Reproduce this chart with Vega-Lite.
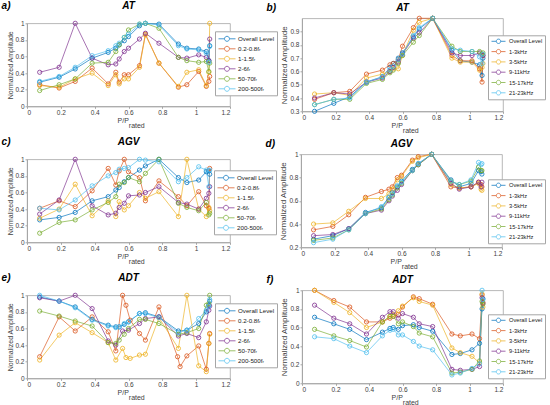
{
  "$schema": "https://vega.github.io/schema/vega-lite/v6.json",
  "datasets": {
    "a": [
      {"series": "Overall Level", "x": 0.075, "y": 0.29}, {"series": "Overall Level", "x": 0.19, "y": 0.35}, {"series": "Overall Level", "x": 0.285, "y": 0.45}, {"series": "Overall Level", "x": 0.385, "y": 0.58}, {"series": "Overall Level", "x": 0.48, "y": 0.65}, {"series": "Overall Level", "x": 0.525, "y": 0.70}, {"series": "Overall Level", "x": 0.545, "y": 0.74}, {"series": "Overall Level", "x": 0.575, "y": 0.79}, {"series": "Overall Level", "x": 0.6, "y": 0.84}, {"series": "Overall Level", "x": 0.665, "y": 0.97}, {"series": "Overall Level", "x": 0.7, "y": 1.0}, {"series": "Overall Level", "x": 0.78, "y": 0.99}, {"series": "Overall Level", "x": 0.895, "y": 0.75}, {"series": "Overall Level", "x": 0.945, "y": 0.70}, {"series": "Overall Level", "x": 1.015, "y": 0.69}, {"series": "Overall Level", "x": 1.06, "y": 0.66}, {"series": "Overall Level", "x": 1.075, "y": 0.55}, {"series": "Overall Level", "x": 1.08, "y": 0.73},
      {"series": "0.2-0.8fᵣ", "x": 0.075, "y": 0.26}, {"series": "0.2-0.8fᵣ", "x": 0.19, "y": 0.22}, {"series": "0.2-0.8fᵣ", "x": 0.285, "y": 0.30}, {"series": "0.2-0.8fᵣ", "x": 0.385, "y": 0.46}, {"series": "0.2-0.8fᵣ", "x": 0.48, "y": 0.27}, {"series": "0.2-0.8fᵣ", "x": 0.525, "y": 0.41}, {"series": "0.2-0.8fᵣ", "x": 0.545, "y": 0.29}, {"series": "0.2-0.8fᵣ", "x": 0.575, "y": 0.38}, {"series": "0.2-0.8fᵣ", "x": 0.6, "y": 0.38}, {"series": "0.2-0.8fᵣ", "x": 0.665, "y": 0.49}, {"series": "0.2-0.8fᵣ", "x": 0.7, "y": 0.87}, {"series": "0.2-0.8fᵣ", "x": 0.78, "y": 0.52}, {"series": "0.2-0.8fᵣ", "x": 0.895, "y": 0.23}, {"series": "0.2-0.8fᵣ", "x": 0.945, "y": 0.26}, {"series": "0.2-0.8fᵣ", "x": 1.015, "y": 0.42}, {"series": "0.2-0.8fᵣ", "x": 1.06, "y": 0.24}, {"series": "0.2-0.8fᵣ", "x": 1.075, "y": 0.30}, {"series": "0.2-0.8fᵣ", "x": 1.08, "y": 0.36},
      {"series": "1-1.5fᵣ", "x": 0.075, "y": 0.25}, {"series": "1-1.5fᵣ", "x": 0.19, "y": 0.23}, {"series": "1-1.5fᵣ", "x": 0.285, "y": 0.33}, {"series": "1-1.5fᵣ", "x": 0.385, "y": 0.40}, {"series": "1-1.5fᵣ", "x": 0.48, "y": 0.25}, {"series": "1-1.5fᵣ", "x": 0.525, "y": 0.38}, {"series": "1-1.5fᵣ", "x": 0.545, "y": 0.27}, {"series": "1-1.5fᵣ", "x": 0.575, "y": 0.33}, {"series": "1-1.5fᵣ", "x": 0.6, "y": 0.33}, {"series": "1-1.5fᵣ", "x": 0.665, "y": 0.47}, {"series": "1-1.5fᵣ", "x": 0.7, "y": 0.86}, {"series": "1-1.5fᵣ", "x": 0.78, "y": 0.52}, {"series": "1-1.5fᵣ", "x": 0.895, "y": 0.24}, {"series": "1-1.5fᵣ", "x": 0.945, "y": 0.41}, {"series": "1-1.5fᵣ", "x": 1.015, "y": 0.44}, {"series": "1-1.5fᵣ", "x": 1.06, "y": 0.25}, {"series": "1-1.5fᵣ", "x": 1.075, "y": 0.41}, {"series": "1-1.5fᵣ", "x": 1.08, "y": 1.0},
      {"series": "2-6fᵣ", "x": 0.075, "y": 0.41}, {"series": "2-6fᵣ", "x": 0.19, "y": 0.47}, {"series": "2-6fᵣ", "x": 0.285, "y": 1.0}, {"series": "2-6fᵣ", "x": 0.385, "y": 0.58}, {"series": "2-6fᵣ", "x": 0.48, "y": 0.50}, {"series": "2-6fᵣ", "x": 0.525, "y": 0.51}, {"series": "2-6fᵣ", "x": 0.545, "y": 0.57}, {"series": "2-6fᵣ", "x": 0.575, "y": 0.66}, {"series": "2-6fᵣ", "x": 0.6, "y": 0.70}, {"series": "2-6fᵣ", "x": 0.665, "y": 0.81}, {"series": "2-6fᵣ", "x": 0.7, "y": 0.88}, {"series": "2-6fᵣ", "x": 0.78, "y": 0.76}, {"series": "2-6fᵣ", "x": 0.895, "y": 0.59}, {"series": "2-6fᵣ", "x": 0.945, "y": 0.58}, {"series": "2-6fᵣ", "x": 1.015, "y": 0.62}, {"series": "2-6fᵣ", "x": 1.06, "y": 0.59}, {"series": "2-6fᵣ", "x": 1.075, "y": 0.55}, {"series": "2-6fᵣ", "x": 1.08, "y": 0.81},
      {"series": "50-70fᵣ", "x": 0.075, "y": 0.19}, {"series": "50-70fᵣ", "x": 0.19, "y": 0.26}, {"series": "50-70fᵣ", "x": 0.285, "y": 0.33}, {"series": "50-70fᵣ", "x": 0.385, "y": 0.52}, {"series": "50-70fᵣ", "x": 0.48, "y": 0.53}, {"series": "50-70fᵣ", "x": 0.525, "y": 0.66}, {"series": "50-70fᵣ", "x": 0.545, "y": 0.74}, {"series": "50-70fᵣ", "x": 0.575, "y": 0.83}, {"series": "50-70fᵣ", "x": 0.6, "y": 0.92}, {"series": "50-70fᵣ", "x": 0.665, "y": 0.99}, {"series": "50-70fᵣ", "x": 0.7, "y": 1.0}, {"series": "50-70fᵣ", "x": 0.78, "y": 0.94}, {"series": "50-70fᵣ", "x": 0.895, "y": 0.59}, {"series": "50-70fᵣ", "x": 0.945, "y": 0.55}, {"series": "50-70fᵣ", "x": 1.015, "y": 0.53}, {"series": "50-70fᵣ", "x": 1.06, "y": 0.54}, {"series": "50-70fᵣ", "x": 1.075, "y": 0.42}, {"series": "50-70fᵣ", "x": 1.08, "y": 0.52},
      {"series": "200-500fᵣ", "x": 0.075, "y": 0.30}, {"series": "200-500fᵣ", "x": 0.19, "y": 0.36}, {"series": "200-500fᵣ", "x": 0.285, "y": 0.47}, {"series": "200-500fᵣ", "x": 0.385, "y": 0.61}, {"series": "200-500fᵣ", "x": 0.48, "y": 0.67}, {"series": "200-500fᵣ", "x": 0.525, "y": 0.73}, {"series": "200-500fᵣ", "x": 0.545, "y": 0.76}, {"series": "200-500fᵣ", "x": 0.575, "y": 0.83}, {"series": "200-500fᵣ", "x": 0.6, "y": 0.87}, {"series": "200-500fᵣ", "x": 0.665, "y": 0.99}, {"series": "200-500fᵣ", "x": 0.7, "y": 1.0}, {"series": "200-500fᵣ", "x": 0.78, "y": 0.98}, {"series": "200-500fᵣ", "x": 0.895, "y": 0.73}, {"series": "200-500fᵣ", "x": 0.945, "y": 0.69}, {"series": "200-500fᵣ", "x": 1.015, "y": 0.68}, {"series": "200-500fᵣ", "x": 1.06, "y": 0.64}, {"series": "200-500fᵣ", "x": 1.075, "y": 0.53}, {"series": "200-500fᵣ", "x": 1.08, "y": 0.72}
    ],
    "b": [
      {"series": "Overall Level", "x": 0.075, "y": 0.30}, {"series": "Overall Level", "x": 0.19, "y": 0.36}, {"series": "Overall Level", "x": 0.285, "y": 0.41}, {"series": "Overall Level", "x": 0.385, "y": 0.52}, {"series": "Overall Level", "x": 0.48, "y": 0.56}, {"series": "Overall Level", "x": 0.525, "y": 0.63}, {"series": "Overall Level", "x": 0.545, "y": 0.66}, {"series": "Overall Level", "x": 0.575, "y": 0.70}, {"series": "Overall Level", "x": 0.6, "y": 0.74}, {"series": "Overall Level", "x": 0.665, "y": 0.86}, {"series": "Overall Level", "x": 0.7, "y": 0.92}, {"series": "Overall Level", "x": 0.78, "y": 1.0}, {"series": "Overall Level", "x": 0.895, "y": 0.76}, {"series": "Overall Level", "x": 0.945, "y": 0.68}, {"series": "Overall Level", "x": 1.015, "y": 0.67}, {"series": "Overall Level", "x": 1.06, "y": 0.65}, {"series": "Overall Level", "x": 1.075, "y": 0.57}, {"series": "Overall Level", "x": 1.08, "y": 0.70},
      {"series": "1-3kHz", "x": 0.075, "y": 0.39}, {"series": "1-3kHz", "x": 0.19, "y": 0.44}, {"series": "1-3kHz", "x": 0.285, "y": 0.45}, {"series": "1-3kHz", "x": 0.385, "y": 0.58}, {"series": "1-3kHz", "x": 0.48, "y": 0.61}, {"series": "1-3kHz", "x": 0.525, "y": 0.65}, {"series": "1-3kHz", "x": 0.545, "y": 0.66}, {"series": "1-3kHz", "x": 0.575, "y": 0.69}, {"series": "1-3kHz", "x": 0.6, "y": 0.79}, {"series": "1-3kHz", "x": 0.665, "y": 0.93}, {"series": "1-3kHz", "x": 0.7, "y": 1.0}, {"series": "1-3kHz", "x": 0.78, "y": 1.0}, {"series": "1-3kHz", "x": 0.895, "y": 0.72}, {"series": "1-3kHz", "x": 0.945, "y": 0.68}, {"series": "1-3kHz", "x": 1.015, "y": 0.68}, {"series": "1-3kHz", "x": 1.06, "y": 0.62}, {"series": "1-3kHz", "x": 1.075, "y": 0.52}, {"series": "1-3kHz", "x": 1.08, "y": 0.72},
      {"series": "3-5kHz", "x": 0.075, "y": 0.43}, {"series": "3-5kHz", "x": 0.19, "y": 0.44}, {"series": "3-5kHz", "x": 0.285, "y": 0.42}, {"series": "3-5kHz", "x": 0.385, "y": 0.55}, {"series": "3-5kHz", "x": 0.48, "y": 0.58}, {"series": "3-5kHz", "x": 0.525, "y": 0.60}, {"series": "3-5kHz", "x": 0.545, "y": 0.62}, {"series": "3-5kHz", "x": 0.575, "y": 0.62}, {"series": "3-5kHz", "x": 0.6, "y": 0.72}, {"series": "3-5kHz", "x": 0.665, "y": 0.91}, {"series": "3-5kHz", "x": 0.7, "y": 0.97}, {"series": "3-5kHz", "x": 0.78, "y": 1.0}, {"series": "3-5kHz", "x": 0.895, "y": 0.70}, {"series": "3-5kHz", "x": 0.945, "y": 0.67}, {"series": "3-5kHz", "x": 1.015, "y": 0.67}, {"series": "3-5kHz", "x": 1.06, "y": 0.61}, {"series": "3-5kHz", "x": 1.075, "y": 0.63}, {"series": "3-5kHz", "x": 1.08, "y": 0.66},
      {"series": "9-11kHz", "x": 0.075, "y": 0.40}, {"series": "9-11kHz", "x": 0.19, "y": 0.44}, {"series": "9-11kHz", "x": 0.285, "y": 0.43}, {"series": "9-11kHz", "x": 0.385, "y": 0.52}, {"series": "9-11kHz", "x": 0.48, "y": 0.55}, {"series": "9-11kHz", "x": 0.525, "y": 0.60}, {"series": "9-11kHz", "x": 0.545, "y": 0.63}, {"series": "9-11kHz", "x": 0.575, "y": 0.67}, {"series": "9-11kHz", "x": 0.6, "y": 0.73}, {"series": "9-11kHz", "x": 0.665, "y": 0.85}, {"series": "9-11kHz", "x": 0.7, "y": 0.89}, {"series": "9-11kHz", "x": 0.78, "y": 1.0}, {"series": "9-11kHz", "x": 0.895, "y": 0.74}, {"series": "9-11kHz", "x": 0.945, "y": 0.72}, {"series": "9-11kHz", "x": 1.015, "y": 0.72}, {"series": "9-11kHz", "x": 1.06, "y": 0.74}, {"series": "9-11kHz", "x": 1.075, "y": 0.73}, {"series": "9-11kHz", "x": 1.08, "y": 0.72},
      {"series": "15-17kHz", "x": 0.075, "y": 0.35}, {"series": "15-17kHz", "x": 0.19, "y": 0.39}, {"series": "15-17kHz", "x": 0.285, "y": 0.39}, {"series": "15-17kHz", "x": 0.385, "y": 0.51}, {"series": "15-17kHz", "x": 0.48, "y": 0.54}, {"series": "15-17kHz", "x": 0.525, "y": 0.59}, {"series": "15-17kHz", "x": 0.545, "y": 0.61}, {"series": "15-17kHz", "x": 0.575, "y": 0.66}, {"series": "15-17kHz", "x": 0.6, "y": 0.72}, {"series": "15-17kHz", "x": 0.665, "y": 0.82}, {"series": "15-17kHz", "x": 0.7, "y": 0.87}, {"series": "15-17kHz", "x": 0.78, "y": 1.0}, {"series": "15-17kHz", "x": 0.895, "y": 0.79}, {"series": "15-17kHz", "x": 0.945, "y": 0.75}, {"series": "15-17kHz", "x": 1.015, "y": 0.75}, {"series": "15-17kHz", "x": 1.06, "y": 0.75}, {"series": "15-17kHz", "x": 1.075, "y": 0.73}, {"series": "15-17kHz", "x": 1.08, "y": 0.74},
      {"series": "21-23kHz", "x": 0.075, "y": 0.35}, {"series": "21-23kHz", "x": 0.19, "y": 0.39}, {"series": "21-23kHz", "x": 0.285, "y": 0.40}, {"series": "21-23kHz", "x": 0.385, "y": 0.52}, {"series": "21-23kHz", "x": 0.48, "y": 0.56}, {"series": "21-23kHz", "x": 0.525, "y": 0.61}, {"series": "21-23kHz", "x": 0.545, "y": 0.64}, {"series": "21-23kHz", "x": 0.575, "y": 0.69}, {"series": "21-23kHz", "x": 0.6, "y": 0.73}, {"series": "21-23kHz", "x": 0.665, "y": 0.87}, {"series": "21-23kHz", "x": 0.7, "y": 0.93}, {"series": "21-23kHz", "x": 0.78, "y": 1.0}, {"series": "21-23kHz", "x": 0.895, "y": 0.77}, {"series": "21-23kHz", "x": 0.945, "y": 0.76}, {"series": "21-23kHz", "x": 1.015, "y": 0.75}, {"series": "21-23kHz", "x": 1.06, "y": 0.71}, {"series": "21-23kHz", "x": 1.075, "y": 0.66}, {"series": "21-23kHz", "x": 1.08, "y": 0.73}
    ],
    "c": [
      {"series": "Overall Level", "x": 0.075, "y": 0.27}, {"series": "Overall Level", "x": 0.19, "y": 0.30}, {"series": "Overall Level", "x": 0.285, "y": 0.36}, {"series": "Overall Level", "x": 0.385, "y": 0.50}, {"series": "Overall Level", "x": 0.48, "y": 0.55}, {"series": "Overall Level", "x": 0.525, "y": 0.63}, {"series": "Overall Level", "x": 0.545, "y": 0.66}, {"series": "Overall Level", "x": 0.575, "y": 0.73}, {"series": "Overall Level", "x": 0.6, "y": 0.78}, {"series": "Overall Level", "x": 0.665, "y": 0.87}, {"series": "Overall Level", "x": 0.7, "y": 0.92}, {"series": "Overall Level", "x": 0.78, "y": 1.0}, {"series": "Overall Level", "x": 0.895, "y": 0.78}, {"series": "Overall Level", "x": 0.945, "y": 0.72}, {"series": "Overall Level", "x": 1.015, "y": 0.75}, {"series": "Overall Level", "x": 1.06, "y": 0.85}, {"series": "Overall Level", "x": 1.075, "y": 0.86}, {"series": "Overall Level", "x": 1.08, "y": 0.82},
      {"series": "0.2-0.8fᵣ", "x": 0.075, "y": 0.41}, {"series": "0.2-0.8fᵣ", "x": 0.19, "y": 0.50}, {"series": "0.2-0.8fᵣ", "x": 0.285, "y": 0.43}, {"series": "0.2-0.8fᵣ", "x": 0.385, "y": 0.62}, {"series": "0.2-0.8fᵣ", "x": 0.48, "y": 0.89}, {"series": "0.2-0.8fᵣ", "x": 0.525, "y": 0.69}, {"series": "0.2-0.8fᵣ", "x": 0.545, "y": 0.86}, {"series": "0.2-0.8fᵣ", "x": 0.575, "y": 1.0}, {"series": "0.2-0.8fᵣ", "x": 0.6, "y": 0.85}, {"series": "0.2-0.8fᵣ", "x": 0.665, "y": 0.78}, {"series": "0.2-0.8fᵣ", "x": 0.7, "y": 0.50}, {"series": "0.2-0.8fᵣ", "x": 0.78, "y": 0.74}, {"series": "0.2-0.8fᵣ", "x": 0.895, "y": 0.55}, {"series": "0.2-0.8fᵣ", "x": 0.945, "y": 0.44}, {"series": "0.2-0.8fᵣ", "x": 1.015, "y": 0.61}, {"series": "0.2-0.8fᵣ", "x": 1.06, "y": 0.44}, {"series": "0.2-0.8fᵣ", "x": 1.075, "y": 0.41}, {"series": "0.2-0.8fᵣ", "x": 1.08, "y": 0.89},
      {"series": "1-1.5fᵣ", "x": 0.075, "y": 0.29}, {"series": "1-1.5fᵣ", "x": 0.19, "y": 0.40}, {"series": "1-1.5fᵣ", "x": 0.285, "y": 0.70}, {"series": "1-1.5fᵣ", "x": 0.385, "y": 0.32}, {"series": "1-1.5fᵣ", "x": 0.48, "y": 0.50}, {"series": "1-1.5fᵣ", "x": 0.525, "y": 0.31}, {"series": "1-1.5fᵣ", "x": 0.545, "y": 0.49}, {"series": "1-1.5fᵣ", "x": 0.575, "y": 0.39}, {"series": "1-1.5fᵣ", "x": 0.6, "y": 0.44}, {"series": "1-1.5fᵣ", "x": 0.665, "y": 0.60}, {"series": "1-1.5fᵣ", "x": 0.7, "y": 0.53}, {"series": "1-1.5fᵣ", "x": 0.78, "y": 0.61}, {"series": "1-1.5fᵣ", "x": 0.895, "y": 0.31}, {"series": "1-1.5fᵣ", "x": 0.945, "y": 1.0}, {"series": "1-1.5fᵣ", "x": 1.015, "y": 0.40}, {"series": "1-1.5fᵣ", "x": 1.06, "y": 0.31}, {"series": "1-1.5fᵣ", "x": 1.075, "y": 0.42}, {"series": "1-1.5fᵣ", "x": 1.08, "y": 0.38},
      {"series": "2-6fᵣ", "x": 0.075, "y": 0.34}, {"series": "2-6fᵣ", "x": 0.19, "y": 0.51}, {"series": "2-6fᵣ", "x": 0.285, "y": 1.0}, {"series": "2-6fᵣ", "x": 0.385, "y": 0.44}, {"series": "2-6fᵣ", "x": 0.48, "y": 0.33}, {"series": "2-6fᵣ", "x": 0.525, "y": 0.35}, {"series": "2-6fᵣ", "x": 0.545, "y": 0.42}, {"series": "2-6fᵣ", "x": 0.575, "y": 0.47}, {"series": "2-6fᵣ", "x": 0.6, "y": 0.56}, {"series": "2-6fᵣ", "x": 0.665, "y": 0.57}, {"series": "2-6fᵣ", "x": 0.7, "y": 0.60}, {"series": "2-6fᵣ", "x": 0.78, "y": 0.67}, {"series": "2-6fᵣ", "x": 0.895, "y": 0.48}, {"series": "2-6fᵣ", "x": 0.945, "y": 0.46}, {"series": "2-6fᵣ", "x": 1.015, "y": 0.40}, {"series": "2-6fᵣ", "x": 1.06, "y": 0.53}, {"series": "2-6fᵣ", "x": 1.075, "y": 0.59}, {"series": "2-6fᵣ", "x": 1.08, "y": 0.67},
      {"series": "50-70fᵣ", "x": 0.075, "y": 0.11}, {"series": "50-70fᵣ", "x": 0.19, "y": 0.24}, {"series": "50-70fᵣ", "x": 0.285, "y": 0.27}, {"series": "50-70fᵣ", "x": 0.385, "y": 0.39}, {"series": "50-70fᵣ", "x": 0.48, "y": 0.48}, {"series": "50-70fᵣ", "x": 0.525, "y": 0.55}, {"series": "50-70fᵣ", "x": 0.545, "y": 0.70}, {"series": "50-70fᵣ", "x": 0.575, "y": 0.72}, {"series": "50-70fᵣ", "x": 0.6, "y": 0.78}, {"series": "50-70fᵣ", "x": 0.665, "y": 0.73}, {"series": "50-70fᵣ", "x": 0.7, "y": 0.83}, {"series": "50-70fᵣ", "x": 0.78, "y": 1.0}, {"series": "50-70fᵣ", "x": 0.895, "y": 0.47}, {"series": "50-70fᵣ", "x": 0.945, "y": 0.42}, {"series": "50-70fᵣ", "x": 1.015, "y": 0.38}, {"series": "50-70fᵣ", "x": 1.06, "y": 0.48}, {"series": "50-70fᵣ", "x": 1.075, "y": 0.33}, {"series": "50-70fᵣ", "x": 1.08, "y": 0.35},
      {"series": "200-500fᵣ", "x": 0.075, "y": 0.41}, {"series": "200-500fᵣ", "x": 0.19, "y": 0.39}, {"series": "200-500fᵣ", "x": 0.285, "y": 0.51}, {"series": "200-500fᵣ", "x": 0.385, "y": 0.68}, {"series": "200-500fᵣ", "x": 0.48, "y": 0.80}, {"series": "200-500fᵣ", "x": 0.525, "y": 0.84}, {"series": "200-500fᵣ", "x": 0.545, "y": 0.88}, {"series": "200-500fᵣ", "x": 0.575, "y": 0.89}, {"series": "200-500fᵣ", "x": 0.6, "y": 0.90}, {"series": "200-500fᵣ", "x": 0.665, "y": 1.0}, {"series": "200-500fᵣ", "x": 0.7, "y": 0.99}, {"series": "200-500fᵣ", "x": 0.78, "y": 0.97}, {"series": "200-500fᵣ", "x": 0.895, "y": 0.73}, {"series": "200-500fᵣ", "x": 0.945, "y": 0.78}, {"series": "200-500fᵣ", "x": 1.015, "y": 0.91}, {"series": "200-500fᵣ", "x": 1.06, "y": 0.87}, {"series": "200-500fᵣ", "x": 1.075, "y": 0.67}, {"series": "200-500fᵣ", "x": 1.08, "y": 0.87}
    ],
    "d": [
      {"series": "Overall Level", "x": 0.075, "y": 0.27}, {"series": "Overall Level", "x": 0.19, "y": 0.30}, {"series": "Overall Level", "x": 0.285, "y": 0.36}, {"series": "Overall Level", "x": 0.385, "y": 0.50}, {"series": "Overall Level", "x": 0.48, "y": 0.54}, {"series": "Overall Level", "x": 0.525, "y": 0.63}, {"series": "Overall Level", "x": 0.545, "y": 0.67}, {"series": "Overall Level", "x": 0.575, "y": 0.72}, {"series": "Overall Level", "x": 0.6, "y": 0.77}, {"series": "Overall Level", "x": 0.665, "y": 0.87}, {"series": "Overall Level", "x": 0.7, "y": 0.92}, {"series": "Overall Level", "x": 0.78, "y": 1.0}, {"series": "Overall Level", "x": 0.895, "y": 0.78}, {"series": "Overall Level", "x": 0.945, "y": 0.72}, {"series": "Overall Level", "x": 1.015, "y": 0.75}, {"series": "Overall Level", "x": 1.06, "y": 0.86}, {"series": "Overall Level", "x": 1.075, "y": 0.85}, {"series": "Overall Level", "x": 1.08, "y": 0.83},
      {"series": "1-3kHz", "x": 0.075, "y": 0.35}, {"series": "1-3kHz", "x": 0.19, "y": 0.38}, {"series": "1-3kHz", "x": 0.285, "y": 0.48}, {"series": "1-3kHz", "x": 0.385, "y": 0.63}, {"series": "1-3kHz", "x": 0.48, "y": 0.68}, {"series": "1-3kHz", "x": 0.525, "y": 0.70}, {"series": "1-3kHz", "x": 0.545, "y": 0.72}, {"series": "1-3kHz", "x": 0.575, "y": 0.80}, {"series": "1-3kHz", "x": 0.6, "y": 0.82}, {"series": "1-3kHz", "x": 0.665, "y": 0.95}, {"series": "1-3kHz", "x": 0.7, "y": 0.98}, {"series": "1-3kHz", "x": 0.78, "y": 1.0}, {"series": "1-3kHz", "x": 0.895, "y": 0.72}, {"series": "1-3kHz", "x": 0.945, "y": 0.71}, {"series": "1-3kHz", "x": 1.015, "y": 0.72}, {"series": "1-3kHz", "x": 1.06, "y": 0.76}, {"series": "1-3kHz", "x": 1.075, "y": 0.74}, {"series": "1-3kHz", "x": 1.08, "y": 0.72},
      {"series": "3-5kHz", "x": 0.075, "y": 0.40}, {"series": "3-5kHz", "x": 0.19, "y": 0.41}, {"series": "3-5kHz", "x": 0.285, "y": 0.51}, {"series": "3-5kHz", "x": 0.385, "y": 0.62}, {"series": "3-5kHz", "x": 0.48, "y": 0.62}, {"series": "3-5kHz", "x": 0.525, "y": 0.66}, {"series": "3-5kHz", "x": 0.545, "y": 0.70}, {"series": "3-5kHz", "x": 0.575, "y": 0.78}, {"series": "3-5kHz", "x": 0.6, "y": 0.81}, {"series": "3-5kHz", "x": 0.665, "y": 0.94}, {"series": "3-5kHz", "x": 0.7, "y": 0.97}, {"series": "3-5kHz", "x": 0.78, "y": 1.0}, {"series": "3-5kHz", "x": 0.895, "y": 0.74}, {"series": "3-5kHz", "x": 0.945, "y": 0.71}, {"series": "3-5kHz", "x": 1.015, "y": 0.72}, {"series": "3-5kHz", "x": 1.06, "y": 0.75}, {"series": "3-5kHz", "x": 1.075, "y": 0.70}, {"series": "3-5kHz", "x": 1.08, "y": 0.69},
      {"series": "9-11kHz", "x": 0.075, "y": 0.30}, {"series": "9-11kHz", "x": 0.19, "y": 0.31}, {"series": "9-11kHz", "x": 0.285, "y": 0.36}, {"series": "9-11kHz", "x": 0.385, "y": 0.49}, {"series": "9-11kHz", "x": 0.48, "y": 0.52}, {"series": "9-11kHz", "x": 0.525, "y": 0.60}, {"series": "9-11kHz", "x": 0.545, "y": 0.64}, {"series": "9-11kHz", "x": 0.575, "y": 0.69}, {"series": "9-11kHz", "x": 0.6, "y": 0.74}, {"series": "9-11kHz", "x": 0.665, "y": 0.86}, {"series": "9-11kHz", "x": 0.7, "y": 0.91}, {"series": "9-11kHz", "x": 0.78, "y": 1.0}, {"series": "9-11kHz", "x": 0.895, "y": 0.75}, {"series": "9-11kHz", "x": 0.945, "y": 0.70}, {"series": "9-11kHz", "x": 1.015, "y": 0.72}, {"series": "9-11kHz", "x": 1.06, "y": 0.76}, {"series": "9-11kHz", "x": 1.075, "y": 0.72}, {"series": "9-11kHz", "x": 1.08, "y": 0.76},
      {"series": "15-17kHz", "x": 0.075, "y": 0.26}, {"series": "15-17kHz", "x": 0.19, "y": 0.28}, {"series": "15-17kHz", "x": 0.285, "y": 0.35}, {"series": "15-17kHz", "x": 0.385, "y": 0.49}, {"series": "15-17kHz", "x": 0.48, "y": 0.53}, {"series": "15-17kHz", "x": 0.525, "y": 0.61}, {"series": "15-17kHz", "x": 0.545, "y": 0.65}, {"series": "15-17kHz", "x": 0.575, "y": 0.71}, {"series": "15-17kHz", "x": 0.6, "y": 0.75}, {"series": "15-17kHz", "x": 0.665, "y": 0.86}, {"series": "15-17kHz", "x": 0.7, "y": 0.91}, {"series": "15-17kHz", "x": 0.78, "y": 1.0}, {"series": "15-17kHz", "x": 0.895, "y": 0.77}, {"series": "15-17kHz", "x": 0.945, "y": 0.74}, {"series": "15-17kHz", "x": 1.015, "y": 0.77}, {"series": "15-17kHz", "x": 1.06, "y": 0.89}, {"series": "15-17kHz", "x": 1.075, "y": 0.86}, {"series": "15-17kHz", "x": 1.08, "y": 0.86},
      {"series": "21-23kHz", "x": 0.075, "y": 0.24}, {"series": "21-23kHz", "x": 0.19, "y": 0.27}, {"series": "21-23kHz", "x": 0.285, "y": 0.35}, {"series": "21-23kHz", "x": 0.385, "y": 0.49}, {"series": "21-23kHz", "x": 0.48, "y": 0.55}, {"series": "21-23kHz", "x": 0.525, "y": 0.63}, {"series": "21-23kHz", "x": 0.545, "y": 0.66}, {"series": "21-23kHz", "x": 0.575, "y": 0.73}, {"series": "21-23kHz", "x": 0.6, "y": 0.76}, {"series": "21-23kHz", "x": 0.665, "y": 0.86}, {"series": "21-23kHz", "x": 0.7, "y": 0.92}, {"series": "21-23kHz", "x": 0.78, "y": 1.0}, {"series": "21-23kHz", "x": 0.895, "y": 0.77}, {"series": "21-23kHz", "x": 0.945, "y": 0.74}, {"series": "21-23kHz", "x": 1.015, "y": 0.78}, {"series": "21-23kHz", "x": 1.06, "y": 0.93}, {"series": "21-23kHz", "x": 1.075, "y": 0.91}, {"series": "21-23kHz", "x": 1.08, "y": 0.92}
    ],
    "e": [
      {"series": "Overall Level", "x": 0.075, "y": 0.98}, {"series": "Overall Level", "x": 0.19, "y": 0.93}, {"series": "Overall Level", "x": 0.285, "y": 0.86}, {"series": "Overall Level", "x": 0.385, "y": 0.71}, {"series": "Overall Level", "x": 0.48, "y": 0.64}, {"series": "Overall Level", "x": 0.525, "y": 0.62}, {"series": "Overall Level", "x": 0.545, "y": 0.62}, {"series": "Overall Level", "x": 0.575, "y": 0.65}, {"series": "Overall Level", "x": 0.6, "y": 0.68}, {"series": "Overall Level", "x": 0.665, "y": 0.78}, {"series": "Overall Level", "x": 0.7, "y": 0.79}, {"series": "Overall Level", "x": 0.78, "y": 0.74}, {"series": "Overall Level", "x": 0.895, "y": 0.57}, {"series": "Overall Level", "x": 0.945, "y": 0.58}, {"series": "Overall Level", "x": 1.015, "y": 0.66}, {"series": "Overall Level", "x": 1.06, "y": 0.80}, {"series": "Overall Level", "x": 1.075, "y": 0.88}, {"series": "Overall Level", "x": 1.08, "y": 0.93},
      {"series": "0.2-0.8fᵣ", "x": 0.075, "y": 0.26}, {"series": "0.2-0.8fᵣ", "x": 0.19, "y": 0.74}, {"series": "0.2-0.8fᵣ", "x": 0.285, "y": 0.57}, {"series": "0.2-0.8fᵣ", "x": 0.385, "y": 0.74}, {"series": "0.2-0.8fᵣ", "x": 0.48, "y": 0.56}, {"series": "0.2-0.8fᵣ", "x": 0.525, "y": 0.33}, {"series": "0.2-0.8fᵣ", "x": 0.565, "y": 1.0}, {"series": "0.2-0.8fᵣ", "x": 0.585, "y": 0.88}, {"series": "0.2-0.8fᵣ", "x": 0.61, "y": 0.70}, {"series": "0.2-0.8fᵣ", "x": 0.665, "y": 0.54}, {"series": "0.2-0.8fᵣ", "x": 0.7, "y": 0.46}, {"series": "0.2-0.8fᵣ", "x": 0.78, "y": 0.86}, {"series": "0.2-0.8fᵣ", "x": 0.89, "y": 0.26}, {"series": "0.2-0.8fᵣ", "x": 0.905, "y": 0.14}, {"series": "0.2-0.8fᵣ", "x": 0.945, "y": 0.27}, {"series": "0.2-0.8fᵣ", "x": 1.015, "y": 0.39}, {"series": "0.2-0.8fᵣ", "x": 1.06, "y": 0.11}, {"series": "0.2-0.8fᵣ", "x": 1.075, "y": 0.42}, {"series": "0.2-0.8fᵣ", "x": 1.08, "y": 0.54},
      {"series": "1-1.5fᵣ", "x": 0.075, "y": 0.22}, {"series": "1-1.5fᵣ", "x": 0.19, "y": 0.52}, {"series": "1-1.5fᵣ", "x": 0.285, "y": 0.67}, {"series": "1-1.5fᵣ", "x": 0.385, "y": 0.55}, {"series": "1-1.5fᵣ", "x": 0.48, "y": 0.43}, {"series": "1-1.5fᵣ", "x": 0.525, "y": 0.22}, {"series": "1-1.5fᵣ", "x": 0.565, "y": 0.36}, {"series": "1-1.5fᵣ", "x": 0.585, "y": 0.25}, {"series": "1-1.5fᵣ", "x": 0.61, "y": 0.24}, {"series": "1-1.5fᵣ", "x": 0.665, "y": 0.28}, {"series": "1-1.5fᵣ", "x": 0.7, "y": 0.29}, {"series": "1-1.5fᵣ", "x": 0.78, "y": 0.73}, {"series": "1-1.5fᵣ", "x": 0.895, "y": 0.36}, {"series": "1-1.5fᵣ", "x": 0.945, "y": 1.0}, {"series": "1-1.5fᵣ", "x": 1.015, "y": 0.15}, {"series": "1-1.5fᵣ", "x": 1.06, "y": 0.08}, {"series": "1-1.5fᵣ", "x": 1.075, "y": 0.42}, {"series": "1-1.5fᵣ", "x": 1.08, "y": 0.53},
      {"series": "2-6fᵣ", "x": 0.075, "y": 0.97}, {"series": "2-6fᵣ", "x": 0.19, "y": 0.93}, {"series": "2-6fᵣ", "x": 0.285, "y": 1.0}, {"series": "2-6fᵣ", "x": 0.385, "y": 0.84}, {"series": "2-6fᵣ", "x": 0.48, "y": 0.45}, {"series": "2-6fᵣ", "x": 0.525, "y": 0.40}, {"series": "2-6fᵣ", "x": 0.565, "y": 0.57}, {"series": "2-6fᵣ", "x": 0.6, "y": 0.58}, {"series": "2-6fᵣ", "x": 0.665, "y": 0.66}, {"series": "2-6fᵣ", "x": 0.7, "y": 0.72}, {"series": "2-6fᵣ", "x": 0.78, "y": 0.74}, {"series": "2-6fᵣ", "x": 0.895, "y": 0.51}, {"series": "2-6fᵣ", "x": 0.945, "y": 0.54}, {"series": "2-6fᵣ", "x": 1.015, "y": 0.49}, {"series": "2-6fᵣ", "x": 1.06, "y": 0.68}, {"series": "2-6fᵣ", "x": 1.075, "y": 0.82}, {"series": "2-6fᵣ", "x": 1.08, "y": 0.87},
      {"series": "50-70fᵣ", "x": 0.075, "y": 0.81}, {"series": "50-70fᵣ", "x": 0.19, "y": 0.75}, {"series": "50-70fᵣ", "x": 0.285, "y": 0.69}, {"series": "50-70fᵣ", "x": 0.385, "y": 0.63}, {"series": "50-70fᵣ", "x": 0.48, "y": 0.43}, {"series": "50-70fᵣ", "x": 0.525, "y": 0.42}, {"series": "50-70fᵣ", "x": 0.545, "y": 0.46}, {"series": "50-70fᵣ", "x": 0.575, "y": 0.53}, {"series": "50-70fᵣ", "x": 0.6, "y": 0.60}, {"series": "50-70fᵣ", "x": 0.665, "y": 0.71}, {"series": "50-70fᵣ", "x": 0.7, "y": 0.71}, {"series": "50-70fᵣ", "x": 0.78, "y": 0.66}, {"series": "50-70fᵣ", "x": 0.895, "y": 0.53}, {"series": "50-70fᵣ", "x": 0.945, "y": 0.55}, {"series": "50-70fᵣ", "x": 1.015, "y": 0.60}, {"series": "50-70fᵣ", "x": 1.06, "y": 0.88}, {"series": "50-70fᵣ", "x": 1.075, "y": 0.90}, {"series": "50-70fᵣ", "x": 1.08, "y": 1.0},
      {"series": "200-500fᵣ", "x": 0.075, "y": 1.0}, {"series": "200-500fᵣ", "x": 0.19, "y": 0.93}, {"series": "200-500fᵣ", "x": 0.285, "y": 0.85}, {"series": "200-500fᵣ", "x": 0.385, "y": 0.70}, {"series": "200-500fᵣ", "x": 0.48, "y": 0.63}, {"series": "200-500fᵣ", "x": 0.525, "y": 0.61}, {"series": "200-500fᵣ", "x": 0.545, "y": 0.62}, {"series": "200-500fᵣ", "x": 0.575, "y": 0.66}, {"series": "200-500fᵣ", "x": 0.6, "y": 0.68}, {"series": "200-500fᵣ", "x": 0.665, "y": 0.78}, {"series": "200-500fᵣ", "x": 0.7, "y": 0.78}, {"series": "200-500fᵣ", "x": 0.78, "y": 0.73}, {"series": "200-500fᵣ", "x": 0.895, "y": 0.55}, {"series": "200-500fᵣ", "x": 0.945, "y": 0.58}, {"series": "200-500fᵣ", "x": 1.015, "y": 0.72}, {"series": "200-500fᵣ", "x": 1.06, "y": 0.82}, {"series": "200-500fᵣ", "x": 1.075, "y": 0.87}, {"series": "200-500fᵣ", "x": 1.08, "y": 0.95}
    ],
    "f": [
      {"series": "Overall Level", "x": 0.075, "y": 0.71}, {"series": "Overall Level", "x": 0.19, "y": 0.64}, {"series": "Overall Level", "x": 0.285, "y": 0.58}, {"series": "Overall Level", "x": 0.385, "y": 0.47}, {"series": "Overall Level", "x": 0.48, "y": 0.55}, {"series": "Overall Level", "x": 0.525, "y": 0.59}, {"series": "Overall Level", "x": 0.545, "y": 0.60}, {"series": "Overall Level", "x": 0.575, "y": 0.58}, {"series": "Overall Level", "x": 0.6, "y": 0.62}, {"series": "Overall Level", "x": 0.665, "y": 0.63}, {"series": "Overall Level", "x": 0.7, "y": 0.60}, {"series": "Overall Level", "x": 0.78, "y": 0.56}, {"series": "Overall Level", "x": 0.895, "y": 0.31}, {"series": "Overall Level", "x": 0.945, "y": 0.32}, {"series": "Overall Level", "x": 1.015, "y": 0.36}, {"series": "Overall Level", "x": 1.06, "y": 0.43}, {"series": "Overall Level", "x": 1.075, "y": 0.80}, {"series": "Overall Level", "x": 1.08, "y": 0.91},
      {"series": "1-3kHz", "x": 0.075, "y": 1.0}, {"series": "1-3kHz", "x": 0.19, "y": 0.89}, {"series": "1-3kHz", "x": 0.285, "y": 0.82}, {"series": "1-3kHz", "x": 0.385, "y": 0.66}, {"series": "1-3kHz", "x": 0.48, "y": 0.66}, {"series": "1-3kHz", "x": 0.525, "y": 0.70}, {"series": "1-3kHz", "x": 0.545, "y": 0.72}, {"series": "1-3kHz", "x": 0.575, "y": 0.74}, {"series": "1-3kHz", "x": 0.6, "y": 0.82}, {"series": "1-3kHz", "x": 0.665, "y": 0.93}, {"series": "1-3kHz", "x": 0.7, "y": 0.91}, {"series": "1-3kHz", "x": 0.78, "y": 0.85}, {"series": "1-3kHz", "x": 0.895, "y": 0.53}, {"series": "1-3kHz", "x": 0.945, "y": 0.51}, {"series": "1-3kHz", "x": 1.015, "y": 0.53}, {"series": "1-3kHz", "x": 1.06, "y": 0.48}, {"series": "1-3kHz", "x": 1.075, "y": 0.95}, {"series": "1-3kHz", "x": 1.08, "y": 0.87},
      {"series": "3-5kHz", "x": 0.075, "y": 1.0}, {"series": "3-5kHz", "x": 0.19, "y": 0.87}, {"series": "3-5kHz", "x": 0.285, "y": 0.76}, {"series": "3-5kHz", "x": 0.385, "y": 0.60}, {"series": "3-5kHz", "x": 0.48, "y": 0.66}, {"series": "3-5kHz", "x": 0.525, "y": 0.72}, {"series": "3-5kHz", "x": 0.545, "y": 0.74}, {"series": "3-5kHz", "x": 0.575, "y": 0.78}, {"series": "3-5kHz", "x": 0.6, "y": 0.83}, {"series": "3-5kHz", "x": 0.665, "y": 0.92}, {"series": "3-5kHz", "x": 0.7, "y": 0.88}, {"series": "3-5kHz", "x": 0.78, "y": 0.84}, {"series": "3-5kHz", "x": 0.895, "y": 0.38}, {"series": "3-5kHz", "x": 0.945, "y": 0.33}, {"series": "3-5kHz", "x": 1.015, "y": 0.29}, {"series": "3-5kHz", "x": 1.06, "y": 0.22}, {"series": "3-5kHz", "x": 1.075, "y": 0.96}, {"series": "3-5kHz", "x": 1.08, "y": 0.82},
      {"series": "9-11kHz", "x": 0.075, "y": 0.84}, {"series": "9-11kHz", "x": 0.19, "y": 0.70}, {"series": "9-11kHz", "x": 0.285, "y": 0.64}, {"series": "9-11kHz", "x": 0.385, "y": 0.53}, {"series": "9-11kHz", "x": 0.48, "y": 0.71}, {"series": "9-11kHz", "x": 0.525, "y": 0.77}, {"series": "9-11kHz", "x": 0.545, "y": 0.77}, {"series": "9-11kHz", "x": 0.575, "y": 0.70}, {"series": "9-11kHz", "x": 0.6, "y": 0.75}, {"series": "9-11kHz", "x": 0.665, "y": 0.71}, {"series": "9-11kHz", "x": 0.7, "y": 0.64}, {"series": "9-11kHz", "x": 0.78, "y": 0.61}, {"series": "9-11kHz", "x": 0.895, "y": 0.15}, {"series": "9-11kHz", "x": 0.945, "y": 0.14}, {"series": "9-11kHz", "x": 1.015, "y": 0.15}, {"series": "9-11kHz", "x": 1.06, "y": 0.18}, {"series": "9-11kHz", "x": 1.075, "y": 0.92}, {"series": "9-11kHz", "x": 1.08, "y": 0.86},
      {"series": "15-17kHz", "x": 0.075, "y": 0.58}, {"series": "15-17kHz", "x": 0.19, "y": 0.51}, {"series": "15-17kHz", "x": 0.285, "y": 0.46}, {"series": "15-17kHz", "x": 0.385, "y": 0.39}, {"series": "15-17kHz", "x": 0.48, "y": 0.66}, {"series": "15-17kHz", "x": 0.525, "y": 0.72}, {"series": "15-17kHz", "x": 0.545, "y": 0.72}, {"series": "15-17kHz", "x": 0.575, "y": 0.64}, {"series": "15-17kHz", "x": 0.6, "y": 0.66}, {"series": "15-17kHz", "x": 0.665, "y": 0.61}, {"series": "15-17kHz", "x": 0.7, "y": 0.54}, {"series": "15-17kHz", "x": 0.78, "y": 0.50}, {"series": "15-17kHz", "x": 0.895, "y": 0.11}, {"series": "15-17kHz", "x": 0.945, "y": 0.12}, {"series": "15-17kHz", "x": 1.015, "y": 0.15}, {"series": "15-17kHz", "x": 1.06, "y": 0.24}, {"series": "15-17kHz", "x": 1.075, "y": 0.88}, {"series": "15-17kHz", "x": 1.08, "y": 0.85},
      {"series": "21-23kHz", "x": 0.075, "y": 0.50}, {"series": "21-23kHz", "x": 0.19, "y": 0.48}, {"series": "21-23kHz", "x": 0.285, "y": 0.40}, {"series": "21-23kHz", "x": 0.385, "y": 0.33}, {"series": "21-23kHz", "x": 0.48, "y": 0.51}, {"series": "21-23kHz", "x": 0.525, "y": 0.57}, {"series": "21-23kHz", "x": 0.545, "y": 0.58}, {"series": "21-23kHz", "x": 0.575, "y": 0.52}, {"series": "21-23kHz", "x": 0.6, "y": 0.52}, {"series": "21-23kHz", "x": 0.665, "y": 0.45}, {"series": "21-23kHz", "x": 0.7, "y": 0.40}, {"series": "21-23kHz", "x": 0.78, "y": 0.36}, {"series": "21-23kHz", "x": 0.895, "y": 0.09}, {"series": "21-23kHz", "x": 0.945, "y": 0.11}, {"series": "21-23kHz", "x": 1.015, "y": 0.16}, {"series": "21-23kHz", "x": 1.06, "y": 0.21}, {"series": "21-23kHz", "x": 1.075, "y": 1.0}, {"series": "21-23kHz", "x": 1.08, "y": 0.90}
    ]
  },
  "vconcat": [
    {
      "hconcat": [
        {
          "title": {"text": "a)", "anchor": "start", "frame": "bounds", "offset": -11, "dx": -5},
          "vconcat": [
            {
              "data": {"name": "a"},
              "width": 203, "height": 83,
              "title": {"text": "AT", "offset": 9},
              "mark": {"type": "line", "strokeWidth": 0.9, "opacity": 0.75, "point": {"filled": false, "size": 18, "strokeWidth": 0.8}},
              "encoding": {
                "x": {"field": "x", "type": "quantitative", "scale": {"domain": [0, 1.2], "nice": false}, "axis": {"values": [0, 0.2, 0.4, 0.6, 0.8, 1, 1.2], "format": "~g", "title": ["P/P\u00a0\u00a0\u00a0\u00a0\u00a0\u00a0\u200b", "\u200b\u00a0\u00a0\u00a0\u00a0\u00a0\u00a0\u00a0\u00a0rated"]}},
                "y": {"field": "y", "type": "quantitative", "scale": {"domain": [0, 1], "nice": false}, "axis": {"values": [0, 0.2, 0.4, 0.6, 0.8, 1], "format": "~g", "title": "Normalized Amplitude"}},
                "color": {"field": "series", "type": "nominal", "scale": {"domain": ["Overall Level", "0.2-0.8fᵣ", "1-1.5fᵣ", "2-6fᵣ", "50-70fᵣ", "200-500fᵣ"], "range": ["#0072BD", "#D95319", "#EDB120", "#7E2F8E", "#77AC30", "#4DBEEE"]}, "legend": {"title": null, "legendX": 188, "legendY": 8}}
              }
            }
          ],
          "resolve": {"scale": {"color": "independent"}, "legend": {"color": "independent"}}
        },
        {
          "title": {"text": "b)", "anchor": "start", "frame": "bounds", "offset": -11, "dx": -14},
          "vconcat": [
            {
              "data": {"name": "b"},
              "width": 201, "height": 93,
              "title": {"text": "AT", "offset": 2},
              "mark": {"type": "line", "strokeWidth": 0.9, "opacity": 0.75, "point": {"filled": false, "size": 18, "strokeWidth": 0.8}},
              "encoding": {
                "x": {"field": "x", "type": "quantitative", "scale": {"domain": [0, 1.2], "nice": false}, "axis": {"values": [0, 0.2, 0.4, 0.6, 0.8, 1, 1.2], "format": "~g", "title": ["P/P\u00a0\u00a0\u00a0\u00a0\u00a0\u00a0\u200b", "\u200b\u00a0\u00a0\u00a0\u00a0\u00a0\u00a0\u00a0\u00a0rated"]}},
                "y": {"field": "y", "type": "quantitative", "scale": {"domain": [0.3, 1], "nice": false}, "axis": {"values": [0.3, 0.4, 0.5, 0.6, 0.7, 0.8, 0.9], "format": "~g", "title": "Normalized Amplitude", "titleFontSize": 8}},
                "color": {"field": "series", "type": "nominal", "scale": {"domain": ["Overall Level", "1-3kHz", "3-5kHz", "9-11kHz", "15-17kHz", "21-23kHz"], "range": ["#0072BD", "#D95319", "#EDB120", "#7E2F8E", "#77AC30", "#4DBEEE"]}, "legend": {"title": null, "legendX": 186, "legendY": 17, "labelFontSize": 5.7, "rowPadding": 0.3, "symbolSize": 49, "symbolType": "M-2,0L-0.63,0M0.63,0L2,0M0.63,0A0.63,0.63,0,1,1,-0.63,0A0.63,0.63,0,1,1,0.63,0", "symbolOffset": 4.5, "labelOffset": 6.5}}
              }
            }
          ],
          "resolve": {"scale": {"color": "independent"}, "legend": {"color": "independent"}}
        }
      ],
      "spacing": -12,
      "center": true,
      "resolve": {"scale": {"color": "independent"}, "legend": {"color": "independent"}}
    },
    {
      "hconcat": [
        {
          "title": {"text": "c)", "anchor": "start", "frame": "bounds", "offset": -11, "dx": -5},
          "vconcat": [
            {
              "data": {"name": "c"},
              "width": 203, "height": 83,
              "title": {"text": "AGV", "offset": 9},
              "mark": {"type": "line", "strokeWidth": 0.9, "opacity": 0.75, "point": {"filled": false, "size": 18, "strokeWidth": 0.8}},
              "encoding": {
                "x": {"field": "x", "type": "quantitative", "scale": {"domain": [0, 1.2], "nice": false}, "axis": {"values": [0, 0.2, 0.4, 0.6, 0.8, 1, 1.2], "format": "~g", "title": ["P/P\u00a0\u00a0\u00a0\u00a0\u00a0\u00a0\u200b", "\u200b\u00a0\u00a0\u00a0\u00a0\u00a0\u00a0\u00a0\u00a0rated"]}},
                "y": {"field": "y", "type": "quantitative", "scale": {"domain": [0, 1], "nice": false}, "axis": {"values": [0, 0.2, 0.4, 0.6, 0.8, 1], "format": "~g", "title": "Normalized Amplitude"}},
                "color": {"field": "series", "type": "nominal", "scale": {"domain": ["Overall Level", "0.2-0.8fᵣ", "1-1.5fᵣ", "2-6fᵣ", "50-70fᵣ", "200-500fᵣ"], "range": ["#0072BD", "#D95319", "#EDB120", "#7E2F8E", "#77AC30", "#4DBEEE"]}, "legend": {"title": null, "legendX": 187, "legendY": 11}}
              }
            }
          ],
          "resolve": {"scale": {"color": "independent"}, "legend": {"color": "independent"}}
        },
        {
          "title": {"text": "d)", "anchor": "start", "frame": "bounds", "offset": -11, "dx": -14},
          "vconcat": [
            {
              "data": {"name": "d"},
              "width": 201, "height": 93,
              "title": {"text": "AGV", "offset": 2},
              "mark": {"type": "line", "strokeWidth": 0.9, "opacity": 0.75, "point": {"filled": false, "size": 18, "strokeWidth": 0.8}},
              "encoding": {
                "x": {"field": "x", "type": "quantitative", "scale": {"domain": [0, 1.2], "nice": false}, "axis": {"values": [0, 0.2, 0.4, 0.6, 0.8, 1, 1.2], "format": "~g", "title": ["P/P\u00a0\u00a0\u00a0\u00a0\u00a0\u00a0\u200b", "\u200b\u00a0\u00a0\u00a0\u00a0\u00a0\u00a0\u00a0\u00a0rated"]}},
                "y": {"field": "y", "type": "quantitative", "scale": {"domain": [0.2, 1], "nice": false}, "axis": {"values": [0.2, 0.4, 0.6, 0.8, 1], "format": "~g", "title": "Normalized Amplitude", "titleFontSize": 8}},
                "color": {"field": "series", "type": "nominal", "scale": {"domain": ["Overall Level", "1-3kHz", "3-5kHz", "9-11kHz", "15-17kHz", "21-23kHz"], "range": ["#0072BD", "#D95319", "#EDB120", "#7E2F8E", "#77AC30", "#4DBEEE"]}, "legend": {"title": null, "legendX": 187, "legendY": 25, "labelFontSize": 5.7, "rowPadding": 0.3, "symbolSize": 49, "symbolType": "M-2,0L-0.63,0M0.63,0L2,0M0.63,0A0.63,0.63,0,1,1,-0.63,0A0.63,0.63,0,1,1,0.63,0", "symbolOffset": 4.5, "labelOffset": 6.5}}
              }
            }
          ],
          "resolve": {"scale": {"color": "independent"}, "legend": {"color": "independent"}}
        }
      ],
      "spacing": -12,
      "center": true,
      "resolve": {"scale": {"color": "independent"}, "legend": {"color": "independent"}}
    },
    {
      "hconcat": [
        {
          "title": {"text": "e)", "anchor": "start", "frame": "bounds", "offset": -11, "dx": -5},
          "vconcat": [
            {
              "data": {"name": "e"},
              "width": 203, "height": 83,
              "title": {"text": "ADT", "offset": 9},
              "mark": {"type": "line", "strokeWidth": 0.9, "opacity": 0.75, "point": {"filled": false, "size": 18, "strokeWidth": 0.8}},
              "encoding": {
                "x": {"field": "x", "type": "quantitative", "scale": {"domain": [0, 1.2], "nice": false}, "axis": {"values": [0, 0.2, 0.4, 0.6, 0.8, 1, 1.2], "format": "~g", "title": ["P/P\u00a0\u00a0\u00a0\u00a0\u00a0\u00a0\u200b", "\u200b\u00a0\u00a0\u00a0\u00a0\u00a0\u00a0\u00a0\u00a0rated"]}},
                "y": {"field": "y", "type": "quantitative", "scale": {"domain": [0, 1], "nice": false}, "axis": {"values": [0, 0.2, 0.4, 0.6, 0.8, 1], "format": "~g", "title": "Normalized Amplitude"}},
                "color": {"field": "series", "type": "nominal", "scale": {"domain": ["Overall Level", "0.2-0.8fᵣ", "1-1.5fᵣ", "2-6fᵣ", "50-70fᵣ", "200-500fᵣ"], "range": ["#0072BD", "#D95319", "#EDB120", "#7E2F8E", "#77AC30", "#4DBEEE"]}, "legend": {"title": null, "legendX": 188, "legendY": 8}}
              }
            }
          ],
          "resolve": {"scale": {"color": "independent"}, "legend": {"color": "independent"}}
        },
        {
          "title": {"text": "f)", "anchor": "start", "frame": "bounds", "offset": -11, "dx": -14},
          "vconcat": [
            {
              "data": {"name": "f"},
              "width": 201, "height": 93,
              "title": {"text": "ADT", "offset": 2},
              "mark": {"type": "line", "strokeWidth": 0.9, "opacity": 0.75, "point": {"filled": false, "size": 18, "strokeWidth": 0.8}},
              "encoding": {
                "x": {"field": "x", "type": "quantitative", "scale": {"domain": [0, 1.2], "nice": false}, "axis": {"values": [0, 0.2, 0.4, 0.6, 0.8, 1, 1.2], "format": "~g", "title": ["P/P\u00a0\u00a0\u00a0\u00a0\u00a0\u00a0\u200b", "\u200b\u00a0\u00a0\u00a0\u00a0\u00a0\u00a0\u00a0\u00a0rated"]}},
                "y": {"field": "y", "type": "quantitative", "scale": {"domain": [0, 1], "nice": false}, "axis": {"values": [0, 0.2, 0.4, 0.6, 0.8, 1], "format": "~g", "title": "Normalized Amplitude", "titleFontSize": 8}},
                "color": {"field": "series", "type": "nominal", "scale": {"domain": ["Overall Level", "1-3kHz", "3-5kHz", "9-11kHz", "15-17kHz", "21-23kHz"], "range": ["#0072BD", "#D95319", "#EDB120", "#7E2F8E", "#77AC30", "#4DBEEE"]}, "legend": {"title": null, "legendX": 186, "legendY": 24, "labelFontSize": 5.7, "rowPadding": 0.3, "symbolSize": 49, "symbolType": "M-2,0L-0.63,0M0.63,0L2,0M0.63,0A0.63,0.63,0,1,1,-0.63,0A0.63,0.63,0,1,1,0.63,0", "symbolOffset": 4.5, "labelOffset": 6.5}}
              }
            }
          ],
          "resolve": {"scale": {"color": "independent"}, "legend": {"color": "independent"}}
        }
      ],
      "spacing": -12,
      "center": true,
      "resolve": {"scale": {"color": "independent"}, "legend": {"color": "independent"}}
    }
  ],
  "spacing": 2,
  "resolve": {"scale": {"color": "independent"}, "legend": {"color": "independent"}},
  "config": {
    "font": "Liberation Sans",
    "padding": {"left": 1, "top": 0, "right": 1, "bottom": 0},
    "view": {"stroke": "#a6a6a6", "strokeWidth": 0.8},
    "axis": {"grid": false, "labelFontSize": 6.5, "titleFontSize": 7, "titleFontWeight": "normal", "labelColor": "#404040", "titleColor": "#404040", "domainColor": "#a6a6a6", "tickColor": "#a6a6a6", "tickSize": 2, "labelPadding": 1, "titlePadding": 1, "titleLineHeight": 4.5},
    "title": {"font": "Liberation Sans", "fontSize": 10, "fontStyle": "italic", "fontWeight": "bold", "color": "black"},
    "legend": {"orient": "none", "fillColor": "white", "strokeColor": "#a6a6a6", "padding": 2, "labelFontSize": 6.2, "labelColor": "#202020", "labelOffset": 5.5, "rowPadding": 0, "symbolType": "M-1.7,0L-0.5,0M0.5,0L1.7,0M0.5,0A0.5,0.5,0,1,1,-0.5,0A0.5,0.5,0,1,1,0.5,0", "symbolSize": 100, "symbolOffset": 4.5, "symbolStrokeWidth": 0.9, "symbolOpacity": 0.8, "symbolFillColor": "transparent"}
  }
}
